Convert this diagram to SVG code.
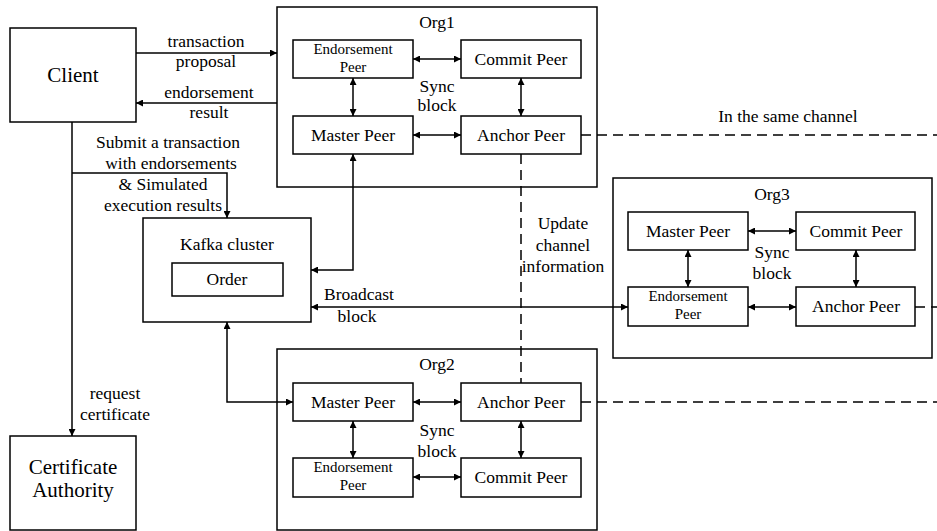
<svg xmlns="http://www.w3.org/2000/svg" width="937" height="531" viewBox="0 0 937 531">
<style>
rect{fill:#fff;stroke:#000;stroke-width:1.5}
text{font-family:"Liberation Serif","Times New Roman","DejaVu Serif",serif;font-size:17.5px;fill:#000;text-anchor:middle}
.big{font-size:21px}
.sm{font-size:15px}
.c path{fill:none;stroke:#000;stroke-width:1.5}
.c .ar{marker-end:url(#ah)}
.c .bi{marker-start:url(#ah);marker-end:url(#ah)}
.c .d{stroke-dasharray:10 6}
</style>
<defs>
<marker id="ah" viewBox="0 0 8 8" refX="8" refY="4" markerWidth="7" markerHeight="7" markerUnits="userSpaceOnUse" orient="auto-start-reverse">
<path d="M0,0 L8,4 L0,8 z" fill="#000"/>
</marker>
</defs>
<rect x="0" y="0" width="937" height="531" style="stroke:none"/>

<g id="org1">
<rect x="277" y="7" width="320" height="180"/>
<text x="437" y="28">Org1</text>
<text x="437" y="92">Sync</text>
<text x="437" y="111">block</text>
</g>
<g id="org1-endorsement"><rect x="293" y="40" width="120" height="38"/><text class="sm" x="353" y="54">Endorsement</text><text class="sm" x="353" y="71.5">Peer</text></g>
<g id="org1-commit"><rect x="461" y="40" width="120" height="38"/><text x="521" y="65">Commit Peer</text></g>
<g id="org1-master"><rect x="293" y="116" width="120" height="38"/><text x="353" y="141">Master Peer</text></g>
<g id="org1-anchor"><rect x="461" y="116" width="120" height="38"/><text x="521" y="141">Anchor Peer</text></g>

<g id="org3">
<rect x="613" y="178" width="319" height="180"/>
<text x="772" y="200">Org3</text>
<text x="772" y="258">Sync</text>
<text x="772" y="279">block</text>
</g>
<g id="org3-master"><rect x="628" y="212" width="120" height="38"/><text x="688" y="237">Master Peer</text></g>
<g id="org3-commit"><rect x="796" y="212" width="119" height="38"/><text x="856" y="237">Commit Peer</text></g>
<g id="org3-endorsement"><rect x="628" y="287" width="120" height="39"/><text class="sm" x="688" y="301">Endorsement</text><text class="sm" x="688" y="318.5">Peer</text></g>
<g id="org3-anchor"><rect x="796" y="287" width="119" height="39"/><text x="856" y="312">Anchor Peer</text></g>

<g id="org2">
<rect x="277" y="349" width="320" height="181"/>
<text x="437" y="370">Org2</text>
<text x="437" y="436">Sync</text>
<text x="437" y="457">block</text>
</g>
<g id="org2-master"><rect x="293" y="383" width="120" height="38"/><text x="353" y="408">Master Peer</text></g>
<g id="org2-anchor"><rect x="461" y="383" width="120" height="38"/><text x="521" y="408">Anchor Peer</text></g>
<g id="org2-endorsement"><rect x="293" y="458" width="120" height="39"/><text class="sm" x="353" y="472">Endorsement</text><text class="sm" x="353" y="489.5">Peer</text></g>
<g id="org2-commit"><rect x="461" y="458" width="120" height="39"/><text x="521" y="483">Commit Peer</text></g>

<g id="client"><rect x="10" y="28" width="126" height="94"/><text class="big" x="73" y="82">Client</text></g>
<g id="ca"><rect x="10" y="436" width="126" height="94"/><text class="big" x="73" y="474">Certificate</text><text class="big" x="73" y="497">Authority</text></g>
<g id="kafka"><rect x="143" y="218" width="168" height="104"/><text x="227" y="250">Kafka cluster</text></g>
<g id="order"><rect x="172" y="263" width="111" height="33"/><text x="227" y="285">Order</text></g>

<g id="connectors" class="c">
<path class="ar" d="M136,53 H277"/>
<path class="ar" d="M277,103 H136"/>
<path class="ar" d="M72,122 V436"/>
<path class="ar" d="M72,173 H227 V218"/>
<path class="bi" d="M353,154 V270 H311"/>
<path class="bi" d="M311,307 H628"/>
<path class="bi" d="M227,322 V402 H293"/>
<path class="bi" d="M413,59 H461"/>
<path class="bi" d="M413,135 H461"/>
<path class="bi" d="M353,78 V116"/>
<path class="bi" d="M521,78 V116"/>
<path class="bi" d="M748,231 H796"/>
<path class="bi" d="M748,307 H796"/>
<path class="bi" d="M688,250 V287"/>
<path class="bi" d="M856,250 V287"/>
<path class="bi" d="M413,402 H461"/>
<path class="bi" d="M413,477 H461"/>
<path class="bi" d="M353,421 V458"/>
<path class="bi" d="M521,421 V458"/>
<path class="d" d="M581,135 H937"/>
<path class="d" d="M521,154 V383"/>
<path class="d" d="M915,307 H937"/>
<path class="d" d="M581,402 H937"/>
</g>

<g id="labels">
<text x="206" y="46.5">transaction</text>
<text x="206" y="67">proposal</text>
<text x="209" y="97.5">endorsement</text>
<text x="209" y="118">result</text>
<text x="168" y="148">Submit a transaction</text>
<text x="171" y="169">with endorsements</text>
<text x="163" y="190">&amp; Simulated</text>
<text x="163" y="211">execution results</text>
<text x="115" y="399">request</text>
<text x="115" y="420">certificate</text>
<text x="359" y="300">Broadcast</text>
<text x="357" y="322">block</text>
<text x="563" y="229">Update</text>
<text x="563" y="251">channel</text>
<text x="563" y="272">information</text>
<text x="788" y="122">In the same channel</text>
</g>
</svg>
